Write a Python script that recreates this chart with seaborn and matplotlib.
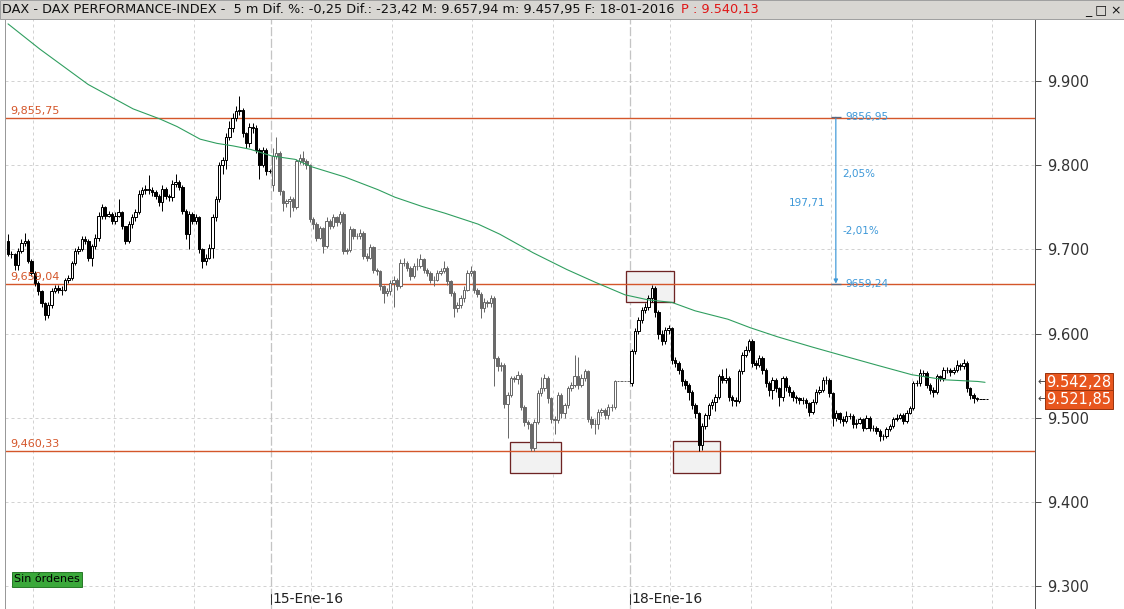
import numpy as np
import pandas as pd
import matplotlib
matplotlib.use("Agg")
import matplotlib.pyplot as plt
import matplotlib.transforms as mtransforms
from matplotlib.patches import Rectangle
import seaborn as sns

# ---- data ----
session_labels = ["14-Ene-16", "15-Ene-16", "18-Ene-16"]
session_colors = ["#000000", "#6a6a6a", "#000000"]
first_open = [9710, 9777, 9541]

close_d1 = [9694, 9694, 9682, 9698, 9708, 9710, 9686, 9672, 9660, 9650, 9636, 9622, 9634, 9650, 9654, 9652,
            9652, 9664, 9666, 9684, 9698, 9700, 9712, 9710, 9690, 9704, 9714, 9740, 9750, 9740, 9742, 9734,
            9740, 9744, 9728, 9710, 9730, 9738, 9744, 9766, 9770, 9772, 9770, 9768, 9764, 9756, 9772, 9764,
            9762, 9778, 9780, 9774, 9746, 9718, 9742, 9734, 9738, 9700, 9686, 9690, 9702, 9738, 9760, 9800,
            9806, 9834, 9844, 9856, 9864, 9866, 9838, 9826, 9846, 9844, 9818, 9800, 9818, 9793, 9793]
high_d1 = [9718, 9698, 9696, 9702, 9712, 9720, 9712, 9688, 9674, 9662, 9652, 9638, 9638, 9654, 9658, 9658,
           9656, 9666, 9670, 9686, 9702, 9704, 9716, 9716, 9712, 9706, 9718, 9744, 9754, 9752, 9746, 9744,
           9744, 9760, 9746, 9728, 9734, 9742, 9748, 9770, 9774, 9776, 9788, 9774, 9770, 9766, 9776, 9774,
           9766, 9782, 9790, 9782, 9776, 9748, 9746, 9744, 9742, 9740, 9702, 9694, 9706, 9742, 9764, 9804,
           9810, 9838, 9852, 9862, 9870, 9882, 9868, 9840, 9850, 9850, 9848, 9820, 9822, 9820, 9795]
low_d1 = [9692, 9690, 9676, 9676, 9696, 9704, 9684, 9668, 9656, 9646, 9632, 9616, 9618, 9630, 9648, 9648,
          9646, 9650, 9660, 9664, 9682, 9694, 9698, 9706, 9686, 9680, 9700, 9710, 9736, 9736, 9738, 9730,
          9730, 9738, 9724, 9706, 9708, 9726, 9734, 9742, 9762, 9766, 9766, 9764, 9760, 9752, 9746, 9760,
          9758, 9758, 9774, 9770, 9742, 9712, 9700, 9730, 9730, 9696, 9678, 9682, 9688, 9690, 9734, 9756,
          9790, 9796, 9830, 9840, 9852, 9860, 9834, 9820, 9822, 9838, 9814, 9784, 9798, 9788, 9791]

close_d2 = [9811, 9815, 9769, 9755, 9757, 9760, 9750, 9805, 9809, 9805, 9800, 9736, 9730, 9714, 9725, 9704,
            9734, 9728, 9738, 9732, 9742, 9698, 9699, 9724, 9716, 9716, 9720, 9692, 9690, 9703, 9676, 9674,
            9656, 9648, 9650, 9660, 9664, 9656, 9684, 9684, 9678, 9668, 9680, 9680, 9688, 9676, 9672, 9664,
            9664, 9672, 9674, 9678, 9662, 9648, 9630, 9634, 9642, 9652, 9672, 9674, 9652, 9647, 9630, 9638,
            9636, 9642, 9571, 9561, 9563, 9516, 9527, 9547, 9546, 9551, 9513, 9495, 9492, 9464, 9495, 9529,
            9535, 9547, 9523, 9499, 9497, 9527, 9505, 9515, 9535, 9539, 9549, 9539, 9547, 9555, 9499, 9493,
            9493, 9507, 9509, 9503, 9513, 9513, 9543, 9544, 9544, 9544, 9544]
high_d2 = [9820, 9833, 9817, 9771, 9760, 9764, 9762, 9808, 9813, 9817, 9808, 9802, 9738, 9732, 9728, 9727,
           9738, 9736, 9742, 9740, 9746, 9744, 9702, 9728, 9726, 9720, 9724, 9722, 9696, 9706, 9704, 9678,
           9676, 9658, 9654, 9664, 9668, 9666, 9688, 9690, 9686, 9680, 9684, 9690, 9695, 9690, 9678, 9674,
           9668, 9676, 9678, 9686, 9680, 9664, 9650, 9638, 9646, 9656, 9676, 9680, 9676, 9654, 9649, 9642,
           9640, 9646, 9644, 9573, 9566, 9565, 9531, 9550, 9550, 9555, 9553, 9515, 9497, 9494, 9498, 9533,
           9548, 9552, 9549, 9525, 9502, 9531, 9529, 9518, 9538, 9542, 9574, 9572, 9552, 9558, 9557, 9502,
           9498, 9510, 9512, 9511, 9516, 9516, 9545, 9544, 9544, 9544, 9544]
low_d2 = [9769, 9808, 9765, 9746, 9750, 9738, 9746, 9748, 9802, 9800, 9796, 9732, 9724, 9710, 9712, 9696,
          9702, 9724, 9726, 9728, 9730, 9694, 9695, 9697, 9712, 9712, 9712, 9688, 9686, 9688, 9672, 9670,
          9652, 9636, 9644, 9646, 9632, 9652, 9654, 9680, 9674, 9664, 9666, 9676, 9678, 9672, 9668, 9660,
          9656, 9662, 9670, 9672, 9658, 9644, 9620, 9626, 9630, 9638, 9650, 9668, 9648, 9643, 9618, 9626,
          9632, 9632, 9538, 9555, 9556, 9512, 9476, 9524, 9542, 9540, 9509, 9490, 9486, 9460, 9460, 9492,
          9526, 9532, 9518, 9494, 9480, 9494, 9500, 9500, 9512, 9532, 9536, 9534, 9536, 9544, 9495, 9488,
          9480, 9486, 9502, 9498, 9498, 9508, 9510, 9544, 9544, 9544, 9544]

close_d3 = [9579, 9603, 9616, 9628, 9632, 9642, 9654, 9626, 9599, 9591, 9604, 9606, 9569, 9565, 9557, 9543,
            9539, 9531, 9515, 9505, 9468, 9490, 9503, 9515, 9519, 9525, 9549, 9545, 9547, 9525, 9521, 9520,
            9555, 9575, 9581, 9591, 9565, 9563, 9571, 9557, 9541, 9533, 9545, 9535, 9525, 9547, 9537, 9531,
            9525, 9523, 9521, 9521, 9517, 9507, 9519, 9531, 9533, 9545, 9545, 9529, 9500, 9505, 9498, 9496,
            9502, 9502, 9492, 9494, 9498, 9488, 9500, 9488, 9488, 9484, 9478, 9478, 9486, 9490, 9498, 9500,
            9503, 9496, 9506, 9511, 9541, 9541, 9553, 9553, 9539, 9533, 9531, 9549, 9547, 9557, 9557, 9554,
            9557, 9563, 9561, 9565, 9535, 9527, 9523, 9522, 9522, 9522, 9522]
high_d3 = [9582, 9606, 9620, 9632, 9636, 9646, 9658, 9656, 9628, 9604, 9608, 9610, 9608, 9572, 9567, 9559,
           9546, 9541, 9533, 9517, 9507, 9494, 9506, 9518, 9522, 9528, 9552, 9558, 9559, 9549, 9527, 9524,
           9558, 9578, 9585, 9594, 9593, 9568, 9574, 9573, 9559, 9543, 9548, 9547, 9537, 9550, 9549, 9539,
           9533, 9527, 9525, 9524, 9523, 9519, 9522, 9534, 9538, 9548, 9549, 9547, 9531, 9509, 9507, 9502,
           9508, 9505, 9504, 9498, 9501, 9500, 9503, 9502, 9491, 9490, 9486, 9481, 9489, 9493, 9501, 9504,
           9506, 9505, 9509, 9514, 9544, 9545, 9558, 9557, 9555, 9541, 9536, 9552, 9551, 9560, 9560, 9559,
           9560, 9568, 9565, 9570, 9567, 9537, 9529, 9524, 9522, 9522, 9522]
low_d3 = [9538, 9576, 9600, 9612, 9624, 9628, 9638, 9620, 9594, 9586, 9588, 9600, 9564, 9560, 9552, 9538,
          9534, 9521, 9510, 9500, 9460, 9462, 9486, 9498, 9510, 9508, 9522, 9541, 9541, 9520, 9514, 9514,
          9518, 9552, 9572, 9578, 9560, 9558, 9560, 9552, 9536, 9526, 9522, 9530, 9514, 9520, 9532, 9526,
          9520, 9518, 9516, 9516, 9512, 9502, 9504, 9516, 9528, 9530, 9540, 9524, 9490, 9496, 9494, 9490,
          9494, 9498, 9488, 9488, 9492, 9484, 9486, 9484, 9484, 9480, 9472, 9474, 9476, 9484, 9488, 9496,
          9498, 9492, 9494, 9504, 9509, 9538, 9538, 9550, 9535, 9528, 9524, 9528, 9544, 9544, 9553, 9550,
          9552, 9554, 9557, 9558, 9530, 9522, 9517, 9520, 9522, 9522, 9522]

# 200 period moving average, read at a few bars
ma_bar = [0, 9.5, 23.9, 37.3, 45.3, 50.4, 57.3, 62.3, 67.1, 72.2, 78.7, 85.6, 90.7, 100.5, 110.3, 115.4,
          123.5, 130.3, 140.2, 146.7, 156.6, 166.7, 175.1, 184, 190.9, 198, 204.9, 214.7, 221.3, 229.6,
          239.8, 249.6, 259.5, 269.6, 279.4, 289.3, 291.4]
ma_val = [9968, 9938, 9896, 9867, 9855, 9846, 9831, 9826, 9823, 9819, 9811, 9807, 9798, 9786, 9771, 9762,
          9751, 9743, 9730, 9718, 9696, 9676, 9661, 9646, 9640, 9637, 9627, 9617, 9607, 9596,
          9584, 9573, 9562, 9551, 9545, 9543, 9542]

levels = [9855.75, 9659.04, 9460.33]
level_text = ["9,855,75", "9,659,04", "9,460,33"]

# highlighted zones: bar from, bar to, price low, price high
zone_from = [184.3, 149.7, 198.3]
zone_to = [198.6, 164.9, 212.3]
zone_lo = [9636.9, 9434.5, 9434.5]
zone_hi = [9673.8, 9471.4, 9472.6]

measure_bar = 246.9
measure_top = 9856.95
measure_bottom = 9659.24

price_tags = [9542.28, 9521.85]
y_ticks = [9300, 9400, 9500, 9600, 9700, 9800, 9900]
time_grid = [7.5, 31.5, 55.5, 90.5, 114.5, 138.5, 162.5, 197.5, 221.5, 245.5, 269.5, 293.5]

# ---- build one table ----
frames = []
start = 0
for k, (c, h, l) in enumerate([(close_d1, high_d1, low_d1), (close_d2, high_d2, low_d2),
                               (close_d3, high_d3, low_d3)]):
    o = [first_open[k]] + c[:-1]
    frames.append(pd.DataFrame({"bar": np.arange(start, start + len(c)), "open": o, "close": c,
                                "high": h, "low": l, "session": k}))
    start += len(c)
df = pd.concat(frames, ignore_index=True)
day_start = df.groupby("session")["bar"].min().tolist()

sns.set_theme(style="white")
plt.rcParams["font.family"] = ["DejaVu Sans"]

fig = plt.figure(figsize=(11.24, 6.09), dpi=100)
fig.patch.set_facecolor("white")
ax = fig.add_axes([5 / 1124, 0, 1030 / 1124, 590 / 609])
ax.set_facecolor("white")

px = 0.72  # one pixel in points

# grid
for gx in time_grid:
    ax.axvline(gx, color="#d2d2d2", lw=px, ls=(0, (3, 3)), zorder=0)
for gy in y_ticks:
    ax.axhline(gy, color="#d2d2d2", lw=px, ls=(0, (3, 3)), zorder=0)
for s in day_start[1:]:
    ax.axvline(s - 0.5, color="#c4c4c4", lw=1.3 * px, ls=(0, (7, 2)), zorder=0)

# zones
for x0, x1, lo, hi in zip(zone_from, zone_to, zone_lo, zone_hi):
    ax.add_patch(Rectangle((x0, lo), x1 - x0, hi - lo, facecolor="#f2f2f2",
                           edgecolor="#6e2424", lw=1.3 * px, zorder=1))

# levels
for lv, txt in zip(levels, level_text):
    ax.axhline(lv, color="#d4562a", lw=1.4 * px, zorder=2)
    ax.annotate(txt, xy=(0.6, lv), xytext=(0, 1.5), textcoords="offset points",
                color="#d4562a", fontsize=8, va="bottom", ha="left", zorder=6)

# candles
for k, sub in df.groupby("session"):
    col = session_colors[k]
    ax.vlines(sub["bar"], sub["low"], sub["high"], color=col, lw=px, zorder=3)
    up = sub["close"] >= sub["open"]
    bottom = np.minimum(sub["open"], sub["close"])
    height = (sub["close"] - sub["open"]).abs()
    ax.bar(sub["bar"][up], height[up], bottom=bottom[up], width=0.72, color="white",
           edgecolor=col, lw=px, zorder=4)
    ax.bar(sub["bar"][~up], height[~up], bottom=bottom[~up], width=0.72, color=col,
           edgecolor=col, lw=px, zorder=4)

# moving average
sns.lineplot(x=ma_bar, y=ma_val, color="#2f9e5f", lw=1.1 * px, ax=ax, zorder=5)

# measurement tool
blue = "#3d98d8"
ax.annotate("", xy=(measure_bar, measure_bottom), xytext=(measure_bar, measure_top),
            arrowprops=dict(arrowstyle="-|>", color=blue, lw=1.2 * px, mutation_scale=6,
                            shrinkA=0, shrinkB=0), zorder=6)
ax.hlines([measure_top, measure_bottom], measure_bar - 1.4, measure_bar + 1.4, color="#5a6a80", lw=1.3 * px, zorder=6)
ax.text(measure_bar + 2.7, measure_top, "9856,95", color=blue, fontsize=7.5, va="center", ha="left", zorder=6)
ax.text(measure_bar + 2.7, measure_bottom, "9659,24", color=blue, fontsize=7.5, va="center", ha="left", zorder=6)
ax.text(measure_bar + 2.0, 9789, "2,05%", color=blue, fontsize=7.5, va="center", ha="left", zorder=6)
ax.text(measure_bar + 2.0, 9722, "-2,01%", color=blue, fontsize=7.5, va="center", ha="left", zorder=6)
ax.text(measure_bar - 3.0, 9755, "197,71", color=blue, fontsize=7.5, va="center", ha="right", zorder=6)

# date labels at the session starts
for s, lab in zip(day_start[1:], session_labels[1:]):
    ax.plot([s - 0.5, s - 0.5], [9278, 9290], color="#333333", lw=px, zorder=6)
    ax.text(s, 9284, lab, fontsize=10, color="#222222", va="center", ha="left", zorder=6)

# axes
ax.set_xlim(-0.9, 306.3)
ax.set_ylim(9272.6, 9973.8)
ax.set_xticks([])
ax.yaxis.tick_right()
ax.set_yticks(y_ticks)
ax.set_yticklabels([f"{v:,.0f}".replace(",", ".") for v in y_ticks], fontsize=10.5, color="#333333")
ax.tick_params(axis="y", direction="out", length=4, width=px, color="#555555", pad=5, right=True)
for side in ["top", "bottom"]:
    ax.spines[side].set_visible(False)
ax.spines["right"].set_color("#555555")
ax.spines["right"].set_linewidth(px)
ax.spines["left"].set_color("#999999")
ax.spines["left"].set_linewidth(px)
ax.set_xlabel("")
ax.set_ylabel("")

# price tags on the right axis
trans = mtransforms.blended_transform_factory(ax.transAxes, ax.transData)
for p in price_tags:
    lab = f"{p:,.2f}".replace(",", "X").replace(".", ",").replace("X", ".")
    ax.text(1.0112, p, lab, transform=trans, fontsize=10.5, color="white", va="center", ha="left",
            bbox=dict(boxstyle="square,pad=0.12", fc="#e8561e", ec="#9a3510", lw=px), clip_on=False, zorder=7)
    ax.text(1.002, p, "←", transform=trans, fontsize=8, color="#444444", va="center", ha="left", clip_on=False)

# "Sin órdenes" badge
ax.text(0.009, 0.05, "Sin órdenes", transform=ax.transAxes, fontsize=8, color="black", va="center", ha="left",
        bbox=dict(boxstyle="square,pad=0.2", fc="#3aa83a", ec="#2a7a2a", lw=px), zorder=7)

# window header
fig.patches.append(Rectangle((0, 1 - 19 / 609), 1, 19 / 609, transform=fig.transFigure,
                             facecolor="#d8d6d2", edgecolor="#a0a0a0", lw=px, zorder=0))
fig.text(2 / 1124, 1 - 9.5 / 609,
         "DAX - DAX PERFORMANCE-INDEX -  5 m Dif. %: -0,25 Dif.: -23,42 M: 9.657,94 m: 9.457,95 F: 18-01-2016",
         fontsize=9.3, color="#111111", va="center", ha="left")
fig.text(681 / 1124, 1 - 9.5 / 609, "P : 9.540,13", fontsize=9.3, color="#e01818", va="center", ha="left")
fig.text(1085 / 1124, 1 - 9.5 / 609, "_ □ ×", fontsize=9, color="#111111", va="center", ha="left")

fig.savefig("out.png", dpi=100)
